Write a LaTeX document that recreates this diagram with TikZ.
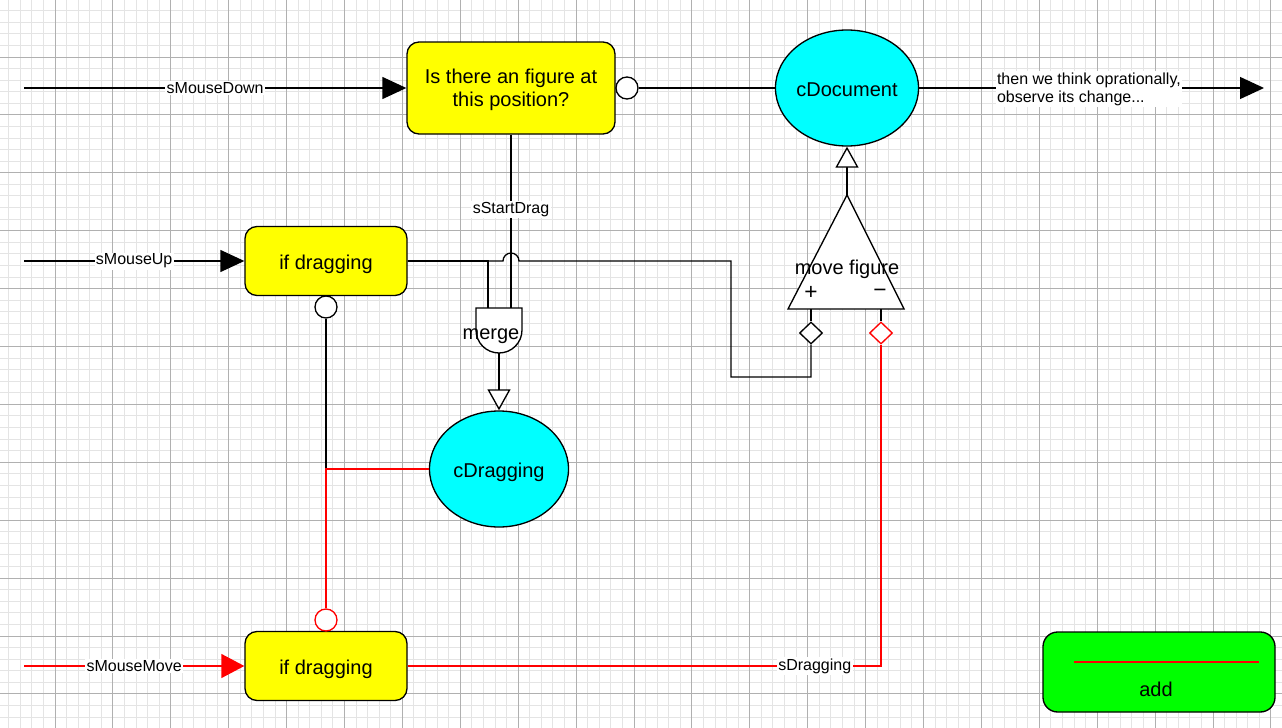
\documentclass[tikz,border=0pt]{standalone}
\usepackage{fontspec}
\setmainfont{Liberation Sans}
\usetikzlibrary{arrows.meta,shapes.geometric,calc}
\definecolor{gridminor}{RGB}{228,228,228}
\definecolor{gridmajor}{RGB}{176,176,176}
\definecolor{boxyellow}{RGB}{255,255,0}
\definecolor{cellcyan}{RGB}{0,255,255}
\definecolor{addgreen}{RGB}{0,255,0}

\begin{document}
\begin{tikzpicture}[x=0.75pt,y=-0.75pt,
  wire/.style={line width=1pt,draw=black},
  redwire/.style={line width=1pt,draw=red},
  bigfont/.style={font=\fontsize{15}{17}\selectfont},
  oneline/.style={bigfont,text height=15.6pt,text depth=3.2pt},
  proc/.style={draw,line width=1pt,fill=boxyellow,rounded corners=9pt,
    minimum width=121.5pt,minimum height=51.75pt,align=center,inner sep=0pt},
  cell/.style={draw,line width=1pt,fill=cellcyan,ellipse,
    minimum width=104.25pt,minimum height=87pt,oneline,inner sep=0pt},
  sig/.style={fill=white,inner sep=1pt,font=\fontsize{12}{14}\selectfont},
  solidtip/.style={-{Triangle[length=18pt,width=16.5pt]}},
  hollowtip/.style={-{Triangle[length=15.75pt,width=17.25pt,fill=white]}},
  port/.style={circle,draw,line width=1pt,fill=white,minimum size=16.5pt,inner sep=0pt},
  pinmark/.style={diamond,draw,line width=1pt,fill=white,minimum width=17.25pt,
    minimum height=16.5pt,inner sep=0pt}
]
\useasboundingbox (0,0) rectangle (1282,728);
\fill[white] (0,0) rectangle (1282,728);

% background grid
\begin{scope}
  \clip (0,0) rectangle (1282,728);
  \foreach \i in {-5,...,106}
    \draw[gridminor,line width=0.75pt] ({55+\i*11.58},0) -- ({55+\i*11.58},728);
  \foreach \j in {-5,...,58}
    \draw[gridminor,line width=0.75pt] (0,{57+\j*11.58}) -- (1282,{57+\j*11.58});
  \foreach \i in {-1,...,21}
    \draw[gridmajor,line width=0.75pt] ({55+\i*57.9},0) -- ({55+\i*57.9},728);
  \foreach \j in {-1,...,12}
    \draw[gridmajor,line width=0.75pt] (0,{57+\j*57.9}) -- (1282,{57+\j*57.9});
\end{scope}

% process boxes and cells
\node[proc,bigfont,minimum width=156pt,minimum height=69pt] (q) at (511,88)
  {\rule{0pt}{14pt}Is there an figure at\\this position?};
\node[proc,oneline] (drag1) at (326,261) {if dragging};
\node[proc,oneline] (drag2) at (326,666) {if dragging};
\node[cell] (doc) at (847,88) {cDocument};
\node[cell] (cdrag) at (499,469) {cDragging};

% merge gate
\draw[line width=1pt,fill=white] (476,308) -- (476,330) arc (180:0:23) -- (522,308) -- cycle;
\coordinate (mergeA) at (488,308);
\coordinate (mergeB) at (511,308);
\coordinate (mergeOut) at (499,353);
\node[oneline] (mergelbl) at (491,331) {merge};

% move figure amplifier
\coordinate (apex) at (847,195);
\coordinate (plusPin) at (811,309);
\coordinate (minusPin) at (881,309);
\draw[line width=1pt,fill=white] (apex) -- (904,309) -- (788,309) -- cycle;
\node[oneline] (movelbl) at (847,266) {move figure};
\node[font=\fontsize{17}{17}\selectfont] (plus) at (811,293) {+};
\node[font=\fontsize{17}{17}\selectfont] (minus) at (880,293) {−};
\node[pinmark] (dp) at (811,333) {};
\node[pinmark,draw=red] (dm) at (881,333) {};

% inputs
\coordinate (downIn) at (24,88);
\coordinate (upIn) at (24,261);
\coordinate (moveIn) at (24,666);
\coordinate (docOut) at (1264,88);
\draw[wire,solidtip] (downIn) -- node[sig]{sMouseDown} (q.west);
\draw[wire,solidtip] (upIn) -- node[sig]{sMouseUp} (drag1.west);
\draw[redwire,-{Triangle[length=17.25pt,width=18pt,fill=red]}] (moveIn) -- node[sig]{sMouseMove} (drag2.west);

% negation ports
\node[port] (qc) at (627,88) {};
\node[port] (c1) at (326,307) {};
\node[port,draw=red] (c2) at (326,620) {};

% document
\draw[wire] (doc.west) -- (qc.east);
\draw[wire,solidtip] (doc.east) -- node[sig,align=left,yshift=-1pt,xshift=-2pt]{then we think oprationally,\\observe its change...} (docOut);

% start drag into merge
\draw[wire] (drag1.east) -- (488,261) -- (mergeA);
\draw[wire] (drag1.east) -- (503,261) arc (180:360:8) -- (731,261) -- (731,377) -- (811,377) -- (dp.south);
\draw[wire] (q.south) -- node[sig,pos=0.434]{sStartDrag} (mergeB);
\draw[wire,hollowtip] (mergeOut) -- (cdrag.north);

% dragging state feedback
\draw[wire] (cdrag.west) -- (326,469) -- (c1.south);
\draw[redwire] (cdrag.west) -- (326,469) -- (c2.north);

% move figure connections
\draw[wire,hollowtip] (apex) -- (doc.south);
\draw[wire] (plusPin) -- (dp.north);
\draw[wire] (minusPin) -- (dm.north);
\draw[redwire] (drag2.east) -| node[sig,pos=0.43]{sDragging} (dm.south);

% add block
\node[draw,line width=1pt,fill=addgreen,rounded corners=11pt,minimum width=174pt,
  minimum height=60pt,inner sep=0pt] (add) at (1159,672) {};
\draw[red,line width=1pt] (1074,662) -- (1259,662);
\node[oneline] (addlbl) at (1156,688) {add};
\end{tikzpicture}
\end{document}
